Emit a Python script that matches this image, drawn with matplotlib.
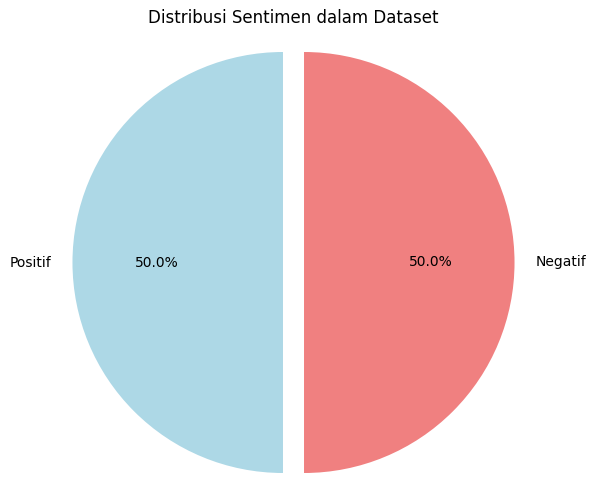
import matplotlib
matplotlib.use("Agg")
import matplotlib.pyplot as plt

labels = ["Positif", "Negatif"]
counts = [50, 50]
colors = ["lightblue", "lightcoral"]
explode = (0.05, 0.05)

W, H = 595, 504
fig = plt.figure(figsize=(W / 100, H / 100), dpi=100)

# pixel layout: pie centre and radius
cx, cy, r = 293.5, 262.5, 210.5
ax_w, ax_h = 520, 2.2 * r
left = (cx - ax_w / 2) / W
bottom = (H - cy - ax_h / 2) / H
ax = fig.add_axes([left, bottom, ax_w / W, ax_h / H])

ax.pie(counts, labels=labels, colors=colors, explode=explode,
       autopct="%1.1f%%", startangle=90)
ax.set_xlim(-ax_w / 2 / r, ax_w / 2 / r)
ax.set_ylim(-1.1, 1.1)
ax.set_title("Distribusi Sentimen dalam Dataset")

fig.savefig("out.png", dpi=100)
